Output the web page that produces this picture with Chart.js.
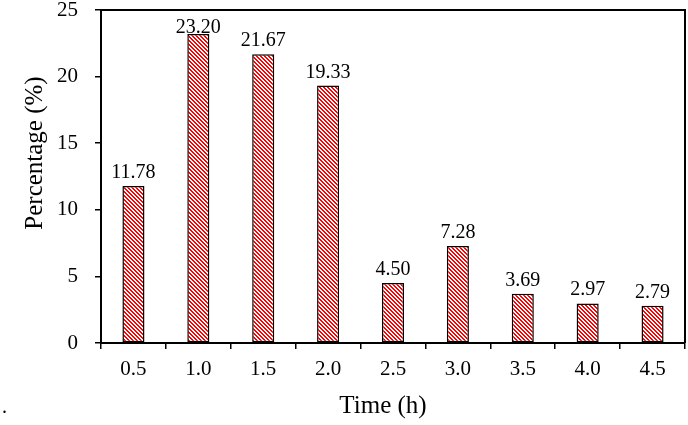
<!DOCTYPE html>
<html>
<head>
<meta charset="utf-8">
<script src="https://cdn.jsdelivr.net/npm/chart.js@4.4.1/dist/chart.umd.min.js"></script>
<style>
  html, body { margin: 0; padding: 0; background: #fff; }
  #wrap { width: 688px; height: 425px; position: relative; }
</style>
</head>
<body>
<div id="wrap"><canvas id="myBarChart" width="688" height="425"></canvas></div>
<script>
var times = ['0.5', '1.0', '1.5', '2.0', '2.5', '3.0', '3.5', '4.0', '4.5'];
var percentages = [11.78, 23.20, 21.67, 19.33, 4.50, 7.28, 3.69, 2.97, 2.79];
var yTicks = [0, 5, 10, 15, 20, 25];
var xTitle = 'Time (h)';
var yTitle = 'Percentage (%)';

var serif = "'Liberation Serif', 'Times New Roman', serif";

// red diagonal hatch, stripes running top-left to bottom-right
function makeHatch(){
    var c = document.createElement('canvas');
    c.width = 4; c.height = 4;
    var g = c.getContext('2d');
    var img = g.createImageData(4, 4);
    for (var y = 0; y < 4; y++) {
        for (var x = 0; x < 4; x++) {
            var i = (y * 4 + x) * 4;
            var red = ((x - y + 8) % 4) < 2;
            img.data[i] = 255;
            img.data[i + 1] = red ? 0 : 255;
            img.data[i + 2] = red ? 0 : 255;
            img.data[i + 3] = 255;
        }
    }
    g.putImageData(img, 0, 0);
    return g.createPattern(c, 'repeat');
}

// top/right frame lines plus the axis titles
var frame = {
    id: 'frame',
    afterDraw: function(chart){
        var a = chart.chartArea, ctx = chart.ctx;
        ctx.save();
        ctx.strokeStyle = '#000';
        ctx.lineWidth = 2;
        ctx.beginPath();
        ctx.moveTo(a.left, a.top);
        ctx.lineTo(a.right, a.top);
        ctx.lineTo(a.right, a.bottom);
        ctx.stroke();

        ctx.fillStyle = '#000';
        ctx.font = '25px ' + serif;
        ctx.textAlign = 'center';
        ctx.textBaseline = 'alphabetic';
        ctx.fillText(xTitle, 383, 413);

        ctx.save();
        ctx.translate(42, 153);
        ctx.rotate(-Math.PI / 2);
        ctx.fillText(yTitle, 0, 0);
        ctx.restore();

        ctx.font = '20px ' + serif;
        ctx.textAlign = 'left';
        ctx.fillText('.', 2, 413);
        ctx.restore();
    }
};

var valueLabels = {
    id: 'valueLabels',
    afterDatasetsDraw: function(chart){
        var ctx = chart.ctx;
        var meta = chart.getDatasetMeta(0);
        ctx.save();
        ctx.fillStyle = '#000';
        ctx.font = '20px ' + serif;
        ctx.textAlign = 'center';
        ctx.textBaseline = 'alphabetic';
        meta.data.forEach(function(bar, i){
            var y = Math.max(bar.y - 8, 33);
            ctx.fillText(percentages[i].toFixed(2), bar.x, y);
        });
        ctx.restore();
    }
};

var ctx = document.getElementById('myBarChart');
var myBarChart = new Chart(ctx, {
    type: 'bar',
    data: {
        labels: times,
        datasets: [{
            data: percentages,
            backgroundColor: makeHatch(),
            borderColor: '#000',
            borderWidth: 1.5,
            borderSkipped: false,
            categoryPercentage: 1,
            barPercentage: 0.34
        }]
    },
    options: {
        responsive: false,
        animation: false,
        events: [],
        layout: { padding: { top: 10, right: 3, left: 0, bottom: 0 } },
        plugins: { legend: { display: false }, tooltip: { enabled: false } },
        scales: {
            x: {
                afterFit: function(s){ s.height = 82; s.paddingLeft = 0; s.paddingRight = 0; },
                grid: { display: true, drawOnChartArea: false, offset: true, tickLength: 6, color: '#000', lineWidth: 1.5 },
                border: { display: true, color: '#000', width: 2 },
                ticks: { color: '#000', font: { family: serif, size: 21 }, padding: 8, maxRotation: 0 }
            },
            y: {
                min: 0,
                max: 25,
                afterFit: function(s){ s.width = 101; s.paddingTop = 0; s.paddingBottom = 0; },
                afterBuildTicks: function(s){ s.ticks = yTicks.map(function(v){ return { value: v }; }); },
                grid: { display: true, drawOnChartArea: false, tickLength: 6, color: '#000', lineWidth: 1.5 },
                border: { display: true, color: '#000', width: 2 },
                ticks: { color: '#000', font: { family: serif, size: 21 }, padding: 17 }
            }
        }
    },
    plugins: [frame, valueLabels]
});
</script>
</body>
</html>
